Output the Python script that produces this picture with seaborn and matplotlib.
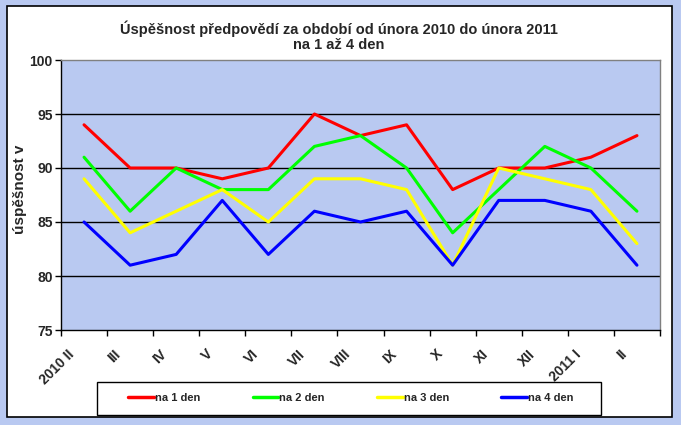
import pandas as pd
import numpy as np
import matplotlib.pyplot as plt
import matplotlib.transforms as mtransforms
import seaborn as sns
from matplotlib.patches import Rectangle
from matplotlib.ticker import FixedLocator

sns.set_theme(style="white")
plt.rcParams['font.family'] = ['Liberation Sans', 'DejaVu Sans']
plt.rcParams['font.weight'] = 'bold'

# Data
months = ["2010 II", "III", "IV", "V", "VI", "VII", "VIII", "IX", "X", "XI", "XII", "2011 I", "II"]
den1 = [94, 90, 90, 89, 90, 95, 93, 94, 88, 90, 90, 91, 93]
den2 = [91, 86, 90, 88, 88, 92, 93, 90, 84, 88, 92, 90, 86]
den3 = [89, 84, 86, 88, 85, 89, 89, 88, 81, 90, 89, 88, 83]
den4 = [85, 81, 82, 87, 82, 86, 85, 86, 81, 87, 87, 86, 81]
series_names = ["na 1 den", "na 2 den", "na 3 den", "na 4 den"]
colors = ["#FF0000", "#00FF00", "#FFFF00", "#0000FF"]

df = pd.DataFrame({"pos": range(len(months)),
                   series_names[0]: den1, series_names[1]: den2,
                   series_names[2]: den3, series_names[3]: den4})
long = df.melt(id_vars="pos", var_name="serie", value_name="val")

BG = "#B9C9F1"
W, H = 681, 425
fig = plt.figure(figsize=(6.81, 4.25), dpi=100, facecolor=BG)

# white chart panel with black frame (behind the axes)
fig.patches.append(Rectangle((7 / W, 1 - 417 / H), 665 / W, 411 / H,
                             transform=fig.transFigure, facecolor="white",
                             edgecolor="black", linewidth=1.2, zorder=-10))
# legend box
fig.patches.append(Rectangle((97 / W, 1 - 415 / H), 504 / W, 33 / H,
                             transform=fig.transFigure, facecolor="white",
                             edgecolor="black", linewidth=1, zorder=-5))

ax = fig.add_axes([61 / W, 95 / H, 599 / W, 270 / H])
ax.set_facecolor(BG)

sns.lineplot(data=long, x="pos", y="val", hue="serie", palette=colors,
             linewidth=2.2, ax=ax, legend=False)

ax.set_xlim(-0.5, len(months) - 0.5)
ax.set_ylim(75, 100)
ax.set_yticks(np.arange(75, 101, 5))
for y in [80, 85, 90, 95]:
    ax.axhline(y, color="black", linewidth=1, zorder=0.5)

# category labels: Excel-style, rotated and set a bit left of each category
ax.set_xticks(range(len(months)))
ax.set_xticklabels([])
ax.tick_params(axis="x", which="major", length=0)
lab_tr = (mtransforms.blended_transform_factory(ax.transData, ax.transAxes)
          + mtransforms.ScaledTranslation(-12 / 100, -22 / 100, fig.dpi_scale_trans))
for i, m in enumerate(months):
    ax.text(i, 0, m, transform=lab_tr, rotation=45, ha="right", va="center",
            rotation_mode="anchor", fontsize=10, fontweight="bold",
            clip_on=False)

ax.xaxis.set_minor_locator(FixedLocator(np.arange(-0.5, len(months), 1)))
ax.tick_params(axis="x", which="minor", length=4, width=1, color="black",
               bottom=True, direction="out")
ax.tick_params(axis="y", length=4, width=1, color="black", left=True,
               direction="out", labelsize=10, pad=2)
for lab in ax.get_yticklabels():
    lab.set_fontweight("bold")

for side in ["left", "bottom"]:
    ax.spines[side].set_color("black")
    ax.spines[side].set_linewidth(1)
for side in ["top", "right"]:
    ax.spines[side].set_color("#808080")
    ax.spines[side].set_linewidth(1)

ax.set_xlabel("")
ax.set_ylabel("úspěšnost v", fontsize=11, fontweight="bold")
ax.yaxis.set_label_coords(-34 / 599, 0.52)

fig.text(339 / W, 1 - 29 / H,
         "Úspěšnost předpovědí za období od února 2010 do února 2011",
         ha="center", va="center", fontsize=10.5, fontweight="bold")
fig.text(339 / W, 1 - 45 / H, "na 1 až 4 den",
         ha="center", va="center", fontsize=10.5, fontweight="bold")

handles = [plt.Line2D([], [], color=c, linewidth=2.5) for c in colors]
leg = fig.legend(handles, series_names, ncol=4,
                 loc="center", bbox_to_anchor=(351 / W, 1 - 398 / H),
                 frameon=False, fontsize=8,
                 handlelength=2.3, handletextpad=0.1, columnspacing=4.7,
                 borderaxespad=0)
for t in leg.get_texts():
    t.set_fontweight("bold")

fig.savefig("out.png", dpi=100, facecolor=BG)
